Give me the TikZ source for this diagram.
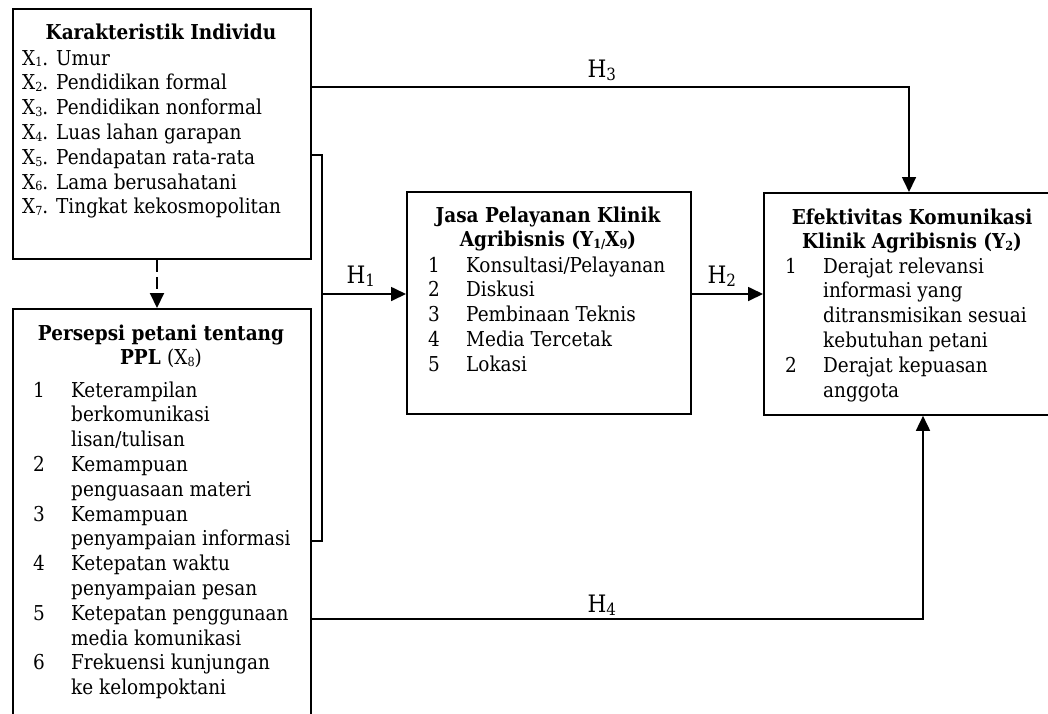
\documentclass[tikz,border=0pt]{standalone}
\usepackage{fontspec}
\setmainfont{DejaVu Serif}[FakeStretch=0.9]
\usetikzlibrary{arrows.meta}
\newcommand\sbs[1]{\raisebox{-1.8pt}{\fontsize{12.5}{12.5}\selectfont #1}}
\begin{document}
\begin{tikzpicture}[x=1pt,y=-1pt,
  box/.style={draw, line width=1.8pt, rectangle, inner sep=0pt, anchor=north west},
  conn/.style={line width=1.7pt},
  arr/.style={conn, -{Triangle[length=15pt,width=14pt]}},
  txt/.style={inner sep=0pt, anchor=base west, font=\fontsize{20.5}{24.8}\selectfont},
  ttl/.style={inner sep=0pt, anchor=base, font=\fontsize{20.5}{24.8}\selectfont\bfseries},
  hlab/.style={inner sep=0pt, anchor=base, font=\fontsize{24}{26}\selectfont}]
\useasboundingbox (0,0) rectangle (1048,713);
\clip (0,0) rectangle (1048,713);
% boxes
\node[box, minimum width=298pt, minimum height=250pt] (A) at (12,8) {};
\node[box, minimum width=298pt, minimum height=430pt] (B) at (12,308) {};
\node[box, minimum width=284pt, minimum height=222pt] (C) at (406,191) {};
\node[box, minimum width=298pt, minimum height=222pt] (D) at (763,192) {};
% titles
\node[ttl] (At) at (161,39) {Karakteristik Individu};
\node[ttl] (Bt) at (161,340) {\begin{tabular}[t]{@{}c@{}}Persepsi petani tentang\\ PPL \mdseries(X\sbs{8})\end{tabular}};
\node[ttl] (Ct) at (548,222) {\begin{tabular}[t]{@{}c@{}}Jasa Pelayanan Klinik\\ Agribisnis (Y\sbs{1/}X\sbs{9})\end{tabular}};
\node[ttl] (Dt) at (912,224) {\begin{tabular}[t]{@{}c@{}}Efektivitas Komunikasi\\ Klinik Agribisnis (Y\sbs{2})\end{tabular}};
% lists
\node[txt] (Al) at (22,65) {\begin{tabular}[t]{@{}l@{}}
X\sbs{1}. Umur\\
X\sbs{2}. Pendidikan formal\\
X\sbs{3}. Pendidikan nonformal\\
X\sbs{4}. Luas lahan garapan\\
X\sbs{5}. Pendapatan rata-rata\\
X\sbs{6}. Lama berusahatani\\
X\sbs{7}. Tingkat kekosmopolitan
\end{tabular}};
\node[txt] (Bl) at (33,397) {\begin{tabular}[t]{@{}p{38pt}@{}l@{}}
1 & Keterampilan\\
  & berkomunikasi\\
  & lisan/tulisan\\
2 & Kemampuan\\
  & penguasaan materi\\
3 & Kemampuan\\
  & penyampaian informasi\\
4 & Ketepatan waktu\\
  & penyampaian pesan\\
5 & Ketepatan penggunaan\\
  & media komunikasi\\
6 & Frekuensi kunjungan\\
  & ke kelompoktani
\end{tabular}};
\node[txt] (Cl) at (428,272) {\begin{tabular}[t]{@{}p{38pt}@{}l@{}}
1 & Konsultasi/Pelayanan\\
2 & Diskusi\\
3 & Pembinaan Teknis\\
4 & Media Tercetak\\
5 & Lokasi
\end{tabular}};
\node[txt] (Dl) at (785,273) {\begin{tabular}[t]{@{}p{38pt}@{}l@{}}
1 & Derajat relevansi\\
  & informasi yang\\
  & ditransmisikan sesuai\\
  & kebutuhan petani\\
2 & Derajat kepuasan\\
  & anggota
\end{tabular}};
% connector coordinates
\coordinate (brt) at (322,155);
\coordinate (brb) at (322,541);
\coordinate (h1s) at (322,294);
\coordinate (h3c) at (909,87);
\coordinate (h4c) at (923,619);
\coordinate (dsh) at (157,0);
% connectors
\draw[arr, line width=2pt, dash pattern=on 12pt off 5pt] (A.south -| dsh) -- (B.north -| dsh);
\draw[conn, line width=1.5pt] (A.east |- brt) -- (brt) -- (brb) -- (B.east |- brb);
\draw[arr] (h1s) -- (C.west |- h1s);
\draw[arr] (C.east |- h1s) -- (D.west |- h1s);
\draw[arr] (A.east |- h3c) -- (h3c) -- (D.north -| h3c);
\draw[arr] (B.east |- h4c) -- (h4c) -- (D.south -| h4c);
% hypothesis labels
\node[hlab] (H1) at (361,283) {H\textsubscript{1}};
\node[hlab] (H2) at (722,283) {H\textsubscript{2}};
\node[hlab] (H3) at (602,77) {H\textsubscript{3}};
\node[hlab] (H4) at (602,612) {H\textsubscript{4}};
\end{tikzpicture}
\end{document}
